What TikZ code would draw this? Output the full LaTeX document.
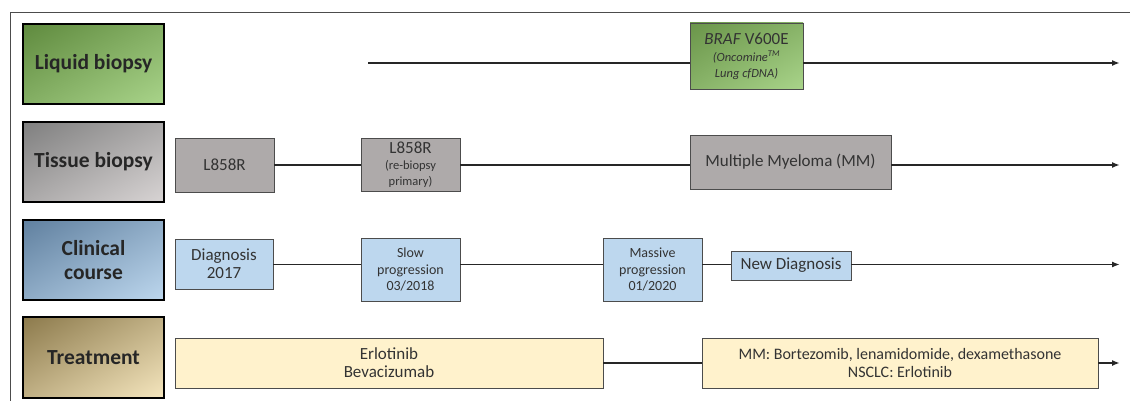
\documentclass[tikz,border=0pt]{standalone}
\usepackage{fontspec}
\setmainfont{Carlito}
\usetikzlibrary{arrows.meta,shadings}

\definecolor{lqdark}{HTML}{5F8A3E}
\definecolor{lqlight}{HTML}{A9D48A}
\definecolor{tsdark}{HTML}{7F7F7F}
\definecolor{tslight}{HTML}{D8D4D4}
\definecolor{cldark}{HTML}{60809F}
\definecolor{cllight}{HTML}{BDD7EE}
\definecolor{trdark}{HTML}{8C7A4C}
\definecolor{trlight}{HTML}{F5E6BE}
\definecolor{tsbox}{HTML}{AEAAAA}
\definecolor{clbox}{HTML}{BDD7EE}
\definecolor{trbox}{HTML}{FFF2CC}

\tikzset{
  rowlabel/.style={draw=black, line width=1.5pt, minimum width=141pt, minimum height=80pt,
    align=center, inner sep=0pt, text=black!85, font=\fontsize{21.5}{24}\selectfont\bfseries},
  event/.style={draw=black!70, line width=0.9pt, align=center, inner sep=0pt,
    text=black!80, font=\fontsize{17}{18}\selectfont},
  small/.style={font=\fontsize{14}{16.5}\selectfont},
  link/.style={line width=1.6pt, black!85},
  timeline/.style={link, -{Latex[length=8pt,width=6pt]}},
}

\begin{document}
\begin{tikzpicture}[x=1pt,y=-1pt]
	\useasboundingbox (0,0) rectangle (1130,401);
	% frame
	\draw[black!70, line width=1pt] (10,401) -- (10,13) -- (1130,13);

	% row labels
	\node[rowlabel, upper left=lqdark, lower right=lqlight, upper right=lqdark!50!lqlight, lower left=lqdark!50!lqlight] (liquid) at (93.5,64) {Liquid biopsy};
	\node[rowlabel, upper left=tsdark, lower right=tslight, upper right=tsdark!50!tslight, lower left=tsdark!50!tslight] (tissue) at (93.5,162) {Tissue biopsy};
	\node[rowlabel, upper left=cldark, lower right=cllight, upper right=cldark!50!cllight, lower left=cldark!50!cllight] (clinical) at (93.5,260) {Clinical\\course};
	\node[rowlabel, minimum height=81pt, upper left=trdark, lower right=trlight, upper right=trdark!50!trlight, lower left=trdark!50!trlight] (treatment) at (93.5,357.5) {Treatment};

	% liquid biopsy
	\coordinate (lqstart) at (368,63);
	\coordinate (lqend) at (1120,63);
	\node[event, minimum width=113pt, minimum height=66pt, upper left=lqdark!85!lqlight, lower right=lqlight, upper right=lqdark!45!lqlight, lower left=lqdark!45!lqlight] (braf) at (746.5,56)
		{\textit{BRAF} V600E\\[-1pt]{\fontsize{12.5}{14}\selectfont\itshape (Oncomine\textsuperscript{TM}}\\[-2pt]{\fontsize{12.5}{14}\selectfont\itshape Lung cfDNA)}};
	\draw[link] (lqstart) -- (lqstart -| braf.west);
	\draw[timeline] (lqstart -| braf.east) -- (lqend);

	% tissue biopsy
	\coordinate (tsend) at (1120,165);
	\node[event, fill=tsbox, minimum width=99pt, minimum height=54pt] (l858a) at (224.5,165) {L858R};
	\node[event, fill=tsbox, minimum width=99pt, minimum height=53pt] (l858b) at (410.5,164.5)
		{L858R\\[-2pt]{\fontsize{12.5}{14}\selectfont (re-biopsy}\\[-2pt]{\fontsize{12.5}{14}\selectfont primary)}};
	\node[event, fill=tsbox, minimum width=201pt, minimum height=54pt] (myeloma) at (790.5,162) {Multiple Myeloma (MM)};
	\draw[link] (l858a.east |- tsend) -- (l858b.west |- tsend);
	\draw[link] (l858b.east |- tsend) -- (myeloma.west |- tsend);
	\draw[timeline] (myeloma.east |- tsend) -- (tsend);

	% clinical course
	\coordinate (clend) at (1120,264.5);
	\node[event, fill=clbox, minimum width=98pt, minimum height=50pt] (diag) at (224,264) {Diagnosis\\2017};
	\node[event, small, fill=clbox, minimum width=99pt, minimum height=63pt] (slow) at (410.5,269.5) {Slow\\progression\\03/2018};
	\node[event, small, fill=clbox, minimum width=99pt, minimum height=63pt] (massive) at (652.5,269.5) {Massive\\progression\\01/2020};
	\node[event, fill=clbox, minimum width=120pt, minimum height=29pt] (newdiag) at (791,265.5) {New Diagnosis};
	\draw[link] (diag.east |- clend) -- (slow.west |- clend);
	\draw[link] (slow.east |- clend) -- (massive.west |- clend);
	\draw[link] (massive.east |- clend) -- (newdiag.west |- clend);
	\draw[timeline] (newdiag.east |- clend) -- (clend);

	% treatment
	\coordinate (trend) at (1120,363);
	\node[event, fill=trbox, minimum width=428pt, minimum height=50pt] (erlo) at (389,363) {Erlotinib\\Bevacizumab};
	\node[event, fill=trbox, font=\fontsize{16}{17.5}\selectfont, minimum width=396pt, minimum height=50pt] (combo) at (900,363)
		{MM: Bortezomib, lenamidomide, dexamethasone\\NSCLC: Erlotinib};
	\draw[link] (erlo) -- (combo);
	\draw[timeline] (combo) -- (trend);
\end{tikzpicture}
\end{document}
